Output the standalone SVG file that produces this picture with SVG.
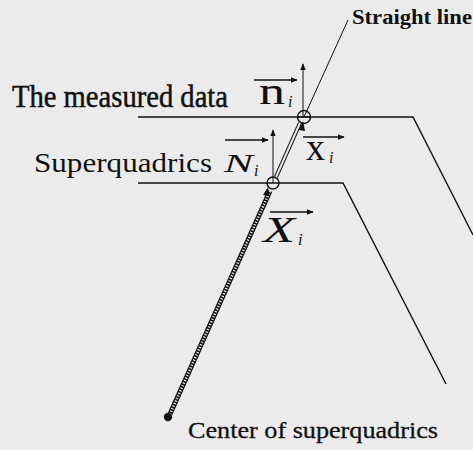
<svg xmlns="http://www.w3.org/2000/svg" width="473" height="450" viewBox="0 0 473 450">
<style>
.ln{stroke:#111;fill:none;stroke-width:1.4}
.thin{stroke:#111;fill:none;stroke-width:1}
.t{font-family:"Liberation Serif","Times New Roman",serif;fill:#111}
.it{font-style:italic}
</style>
<defs>
<marker id="ah" viewBox="0 0 10 10" refX="9" refY="5" markerWidth="7" markerHeight="7" orient="auto" markerUnits="userSpaceOnUse">
<path d="M0,1 L10,5 L0,9 Z" fill="#111"/>
</marker>
</defs>
<rect width="473" height="450" fill="#ebebeb"/>

<g id="surfaces">
<polyline class="ln" points="138,117 413,117 473,235"/>
<polyline class="ln" points="138,183 343,183 446,384"/>
</g>

<g id="connectors">
<line class="thin" x1="348" y1="20" x2="304" y2="117"/>
<line x1="300" y1="123" x2="276" y2="177" stroke="#111" stroke-width="4.2"/>
<line x1="300" y1="123" x2="276" y2="177" stroke="#ebebeb" stroke-width="2"/>
<line x1="270" y1="191" x2="170" y2="414" stroke="#111" stroke-width="5"/>
<line x1="270" y1="191" x2="170" y2="414" stroke="#ebebeb" stroke-width="2.6" stroke-dasharray="1.2 1.6"/>
<path d="M303,121 L298.6,130 L305,131 Z" fill="#111"/>
<path d="M268,187 L263,195 L269.5,196 Z" fill="#111"/>
<line class="thin" x1="303" y1="117" x2="303" y2="64" marker-end="url(#ah)"/>
<line class="thin" x1="273" y1="183" x2="273" y2="130" marker-end="url(#ah)"/>
<line class="ln" x1="254" y1="80" x2="297" y2="80" marker-end="url(#ah)"/>
<line class="ln" x1="303" y1="137" x2="344" y2="137" marker-end="url(#ah)"/>
<line class="ln" x1="225" y1="140" x2="268" y2="140" marker-end="url(#ah)"/>
<line class="ln" x1="270" y1="212" x2="313" y2="212" marker-end="url(#ah)"/>
</g>

<g id="points">
<circle cx="304" cy="117" r="6.5" fill="none" stroke="#111" stroke-width="1.4"/>
<line class="thin" x1="297.5" y1="117" x2="310.5" y2="117"/>
<circle cx="273" cy="183" r="6" fill="none" stroke="#111" stroke-width="1.4"/>
<circle id="center" cx="168" cy="417" r="4.2" fill="#111"/>
</g>

<g id="labels">
<text class="t" x="352" y="24" font-size="22" font-weight="bold" textLength="120" lengthAdjust="spacingAndGlyphs">Straight line</text>
<text class="t" x="12" y="107" font-size="31" textLength="216" lengthAdjust="spacingAndGlyphs" stroke="#111" stroke-width="0.5">The measured data</text>
<text class="t" x="34" y="172" font-size="27" textLength="178" lengthAdjust="spacingAndGlyphs">Superquadrics</text>
<text class="t" x="188" y="438" font-size="24" textLength="250" lengthAdjust="spacingAndGlyphs" stroke="#111" stroke-width="0.3">Center of superquadrics</text>
<text class="t" x="259" y="104" font-size="37" textLength="26" lengthAdjust="spacingAndGlyphs">n</text>
<text class="t it" x="288" y="107" font-size="16">i</text>
<text class="t" x="306" y="160" font-size="37" textLength="19" lengthAdjust="spacingAndGlyphs">x</text>
<text class="t it" x="329" y="163" font-size="16">i</text>
<text class="t it" x="224" y="172" font-size="26" textLength="29" lengthAdjust="spacingAndGlyphs">N</text>
<text class="t it" x="254" y="176" font-size="16">i</text>
<text class="t it" x="263" y="242" font-size="35" textLength="32" lengthAdjust="spacingAndGlyphs">X</text>
<text class="t it" x="298" y="245" font-size="16">i</text>
</g>
</svg>
